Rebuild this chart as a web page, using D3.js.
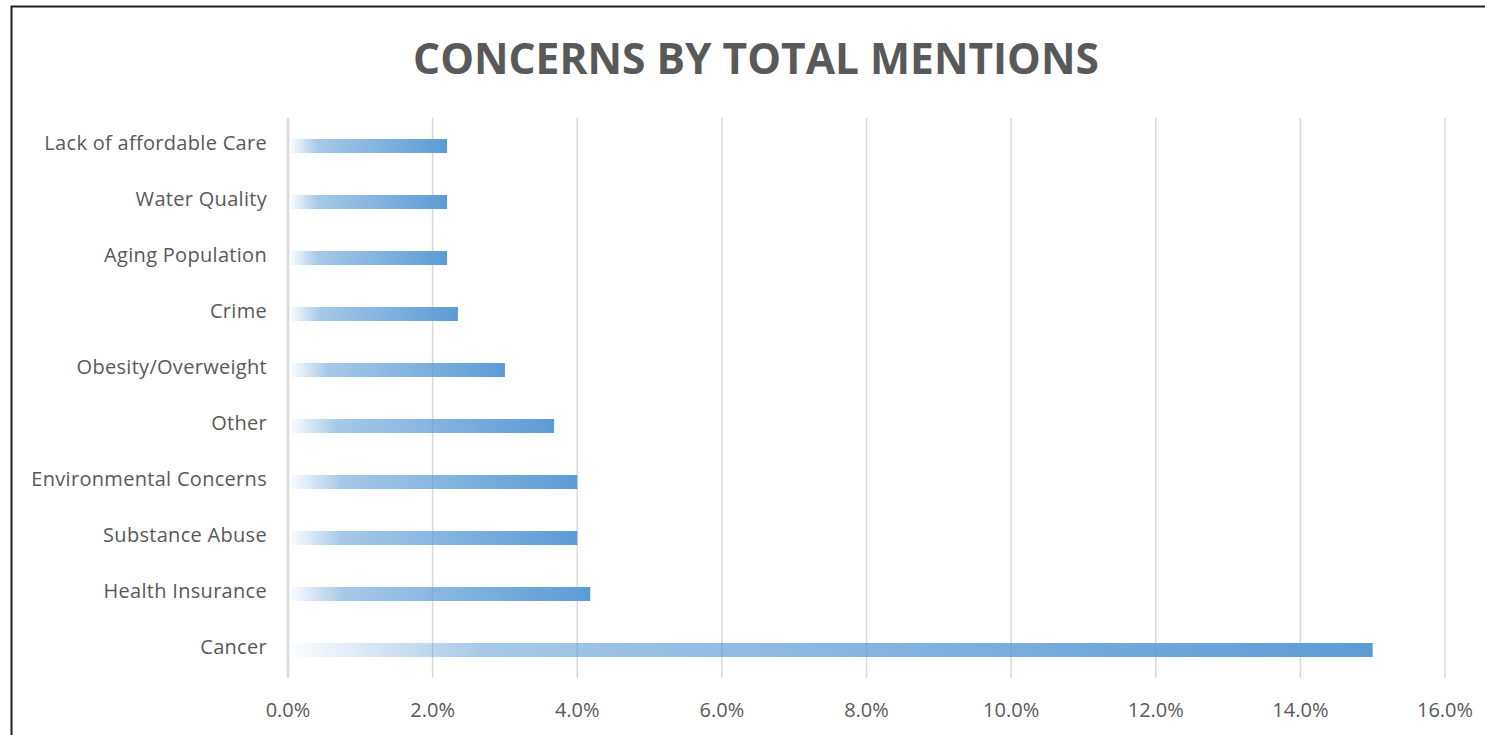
<!DOCTYPE html>
<html lang="en">
<head>
    <meta charset="UTF-8">
    <title>Concerns by Total Mentions</title>
    <script src="https://d3js.org/d3.v7.min.js"></script>
    <style>
        body {
            margin: 0;
            background: #fff;
            overflow: hidden;
        }
        svg {
            display: block;
        }
        .title {
            font: bold 42.5px "Open Sans", sans-serif;
            fill: #595959;
            text-anchor: middle;
        }
        .cat-label {
            font: 20px "Open Sans", sans-serif;
            letter-spacing: 0.3px;
            fill: #595959;
            text-anchor: end;
        }
        .tick-label {
            font: 20px "Open Sans", sans-serif;
            fill: #595959;
            text-anchor: middle;
        }
        .grid line {
            stroke: #d9d9d9;
            stroke-width: 1.5px;
        }
    </style>
</head>
<body>
    <svg></svg>

    <script>
        // chart data, read top to bottom
        const categories = [
            "Lack of affordable Care",
            "Water Quality",
            "Aging Population",
            "Crime",
            "Obesity/Overweight",
            "Other",
            "Environmental Concerns",
            "Substance Abuse",
            "Health Insurance",
            "Cancer"
        ];
        const shares = [2.2, 2.2, 2.2, 2.35, 3.0, 3.68, 4.0, 4.0, 4.18, 15.0];
        const tickValues = [0, 2, 4, 6, 8, 10, 12, 14, 16];

        const width = 1485;
        const height = 735;

        const svg = d3.select("svg")
            .attr("width", width)
            .attr("height", height);

        // chart frame (dark border on top and left)
        svg.append("rect")
            .attr("x", 11.5)
            .attr("y", 6.5)
            .attr("width", width + 20)
            .attr("height", height + 20)
            .attr("fill", "#fff")
            .attr("stroke", "#1f1f1f")
            .attr("stroke-width", 2);

        svg.append("text")
            .attr("class", "title")
            .attr("x", 756)
            .attr("y", 74)
            .text("CONCERNS BY TOTAL MENTIONS");

        const x = d3.scaleLinear()
            .domain([0, 16])
            .range([288, 1445]);

        const y = d3.scaleBand()
            .domain(categories)
            .range([118, 678]);

        // gradient fill used by every bar
        const grad = svg.append("defs").append("linearGradient")
            .attr("id", "barFill")
            .attr("x1", "0%").attr("x2", "100%")
            .attr("y1", "0%").attr("y2", "0%");
        grad.append("stop").attr("offset", "0%").attr("stop-color", "#5b9bd5").attr("stop-opacity", 0.02);
        grad.append("stop").attr("offset", "18%").attr("stop-color", "#5b9bd5").attr("stop-opacity", 0.55);
        grad.append("stop").attr("offset", "100%").attr("stop-color", "#5b9bd5").attr("stop-opacity", 1);

        // vertical gridlines
        svg.append("g")
            .attr("class", "grid")
            .selectAll("line")
            .data(tickValues)
            .join("line")
            .attr("x1", d => x(d))
            .attr("x2", d => x(d))
            .attr("y1", y.range()[0])
            .attr("y2", y.range()[1])
            .style("stroke-width", d => d === 0 ? 2.5 : 1.5);

        // bars
        const barH = 14;
        svg.append("g")
            .selectAll("rect")
            .data(categories)
            .join("rect")
            .attr("x", x(0) + 2)
            .attr("y", d => y(d) + y.bandwidth() / 2 - barH / 2)
            .attr("width", (d, i) => x(shares[i]) - x(0) - 2)
            .attr("height", barH)
            .attr("fill", "url(#barFill)");

        // category labels
        svg.append("g")
            .selectAll("text")
            .data(categories)
            .join("text")
            .attr("class", "cat-label")
            .attr("x", 267)
            .attr("y", d => y(d) + y.bandwidth() / 2 + 4)
            .text(d => d);

        // x tick labels
        svg.append("g")
            .selectAll("text")
            .data(tickValues)
            .join("text")
            .attr("class", "tick-label")
            .attr("x", d => x(d))
            .attr("y", 717)
            .text(d => d3.format(".1f")(d) + "%");
    </script>
</body>
</html>
